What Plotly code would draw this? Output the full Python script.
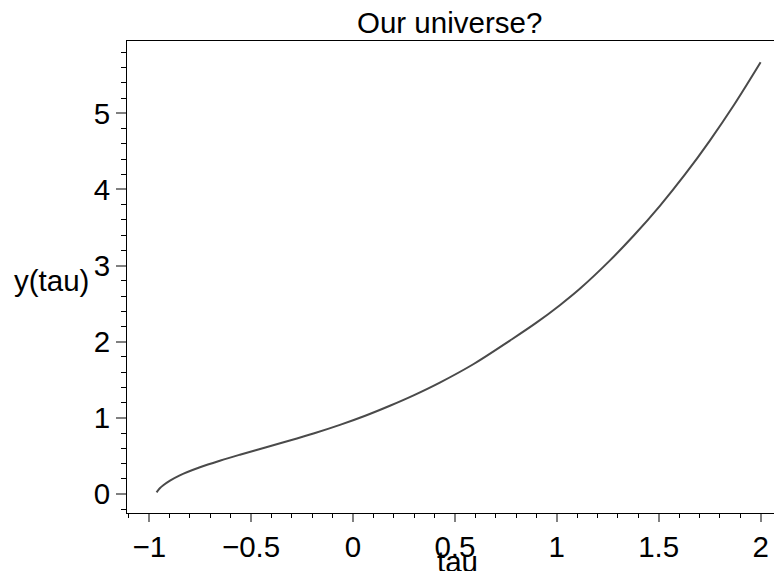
import plotly.graph_objects as go

# Data
tau = [-0.964, -0.948, -0.931, -0.898, -0.85, -0.751, -0.65, -0.555, -0.43,
       -0.310, -0.19, -0.064, 0.06, 0.181, 0.30, 0.426, 0.59, 0.770, 0.9,
       1.015, 1.113, 1.261, 1.38, 1.506, 1.63, 1.751, 1.87, 2.0]
y_tau = [0.022, 0.075, 0.114, 0.175, 0.245, 0.351, 0.440, 0.516, 0.611,
         0.702, 0.798, 0.908, 1.028, 1.159, 1.299, 1.463, 1.704, 2.015, 2.25,
         2.48, 2.695, 3.068, 3.401, 3.785, 4.200, 4.642, 5.112, 5.67]

x_ticks = [-1, -0.5, 0, 0.5, 1, 1.5, 2]
x_ticklabels = ["\u22121", "\u22120.5", "0", "0.5", "1", "1.5", "2"]
y_ticks = [0, 1, 2, 3, 4, 5]

FONT = "Liberation Sans, Arial, sans-serif"
FS = 29.5

fig = go.Figure()
fig.add_trace(go.Scatter(x=tau, y=y_tau, mode="lines",
                         line=dict(color="#4a4a4a", width=2, shape="spline",
                                   smoothing=1.0),
                         showlegend=False, hoverinfo="skip"))

# page body has an 8px default margin, so the figure is 8px smaller
fig.update_layout(
    width=774, height=563,
    margin=dict(l=119, r=0, t=33, b=58, autoexpand=False),
    paper_bgcolor="white", plot_bgcolor="white",
    font=dict(family=FONT, size=FS, color="black"),
    showlegend=False,
    xaxis=dict(range=[-1.109, 2.105], tickmode="array", tickvals=x_ticks,
               ticktext=x_ticklabels, ticks="outside", ticklen=8,
               tickcolor="#808080", tickwidth=2, automargin=False,
               showline=True, linecolor="black", linewidth=1, mirror=True,
               showgrid=False, zeroline=False,
               minor=dict(dtick=0.1, tick0=0, ticks="outside", ticklen=4,
                          tickcolor="black", tickwidth=1, showgrid=False)),
    yaxis=dict(range=[-0.25, 5.95], tickmode="array", tickvals=y_ticks,
               ticks="outside", ticklen=10, tickcolor="#808080", tickwidth=2,
               automargin=False,
               showline=True, linecolor="black", linewidth=1,
               showgrid=False, zeroline=False,
               minor=dict(dtick=0.2, tick0=0, ticks="outside", ticklen=5,
                          tickcolor="black", tickwidth=1, showgrid=False)),
)

fig.add_annotation(text="Our universe?", xref="paper", yref="paper",
                   x=(449.5 - 127) / 655, y=1.0, xanchor="center", yanchor="bottom",
                   yshift=0, showarrow=False,
                   font=dict(family=FONT, size=FS, color="black"))
fig.add_annotation(text="y(tau)", xref="paper", yref="paper",
                   x=(51 - 127) / 655, y=(513 - 280) / 472, xanchor="center",
                   yanchor="middle", showarrow=False,
                   font=dict(family=FONT, size=FS, color="black"))
fig.add_annotation(text="tau", xref="paper", yref="paper",
                   x=(457.5 - 127) / 655, y=(513 - 561) / 472,
                   xanchor="center", yanchor="middle",
                   showarrow=False,
                   font=dict(family=FONT, size=FS, color="black"))

fig.write_html("out.html")
